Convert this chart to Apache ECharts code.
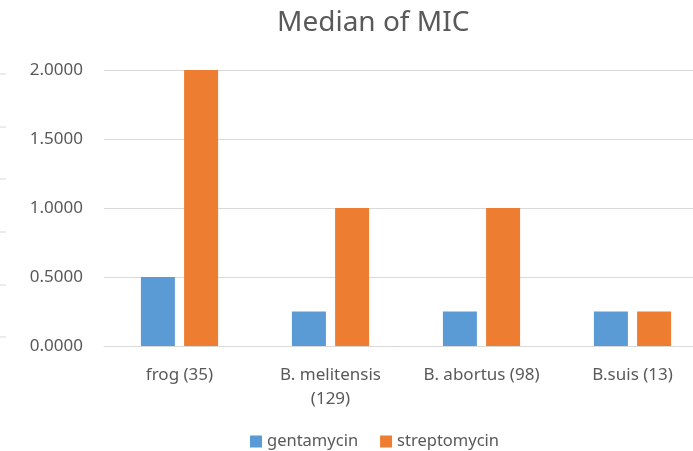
<!DOCTYPE html>
<html>
<head>
<meta charset="utf-8">
<script src="https://cdn.jsdelivr.net/npm/echarts@6/dist/echarts.min.js"></script>
<style>
  html, body { margin: 0; padding: 0; background: #fff; }
  #main { width: 693px; height: 451px; }
</style>
</head>
<body>
<div id="main"></div>
<script>
const categories = ['frog (35)', 'B. melitensis\n(129)', 'B. abortus (98)', 'B.suis (13)'];
const gentamycin = [0.5, 0.25, 0.25, 0.25];
const streptomycin = [2, 1, 1, 0.25];
const yTicks = [0, 0.5, 1, 1.5, 2];

const chart = echarts.init(document.getElementById('main'));
const font = 'Noto Sans';

// faint tick stubs on the left edge (leftover from the cropped neighbour chart)
const stubs = [74, 127, 179, 232, 285, 337].map(y => ({
  type: 'line',
  shape: { x1: 0, y1: y, x2: 6, y2: y },
  style: { stroke: '#d9d9d9', lineWidth: 1 }
}));

chart.setOption({
  backgroundColor: '#fff',
  animation: false,
  title: {
    text: 'Median of MIC',
    left: 272,
    top: 4,
    textStyle: { fontFamily: font, fontSize: 28, fontWeight: 'normal', color: '#595959' }
  },
  legend: {
    top: 428,
    left: 245,
    itemWidth: 12,
    itemHeight: 12,
    itemGap: 22,
    icon: 'rect',
    textStyle: { fontFamily: font, fontSize: 16.5, color: '#595959' },
    data: ['gentamycin', 'streptomycin']
  },
  // the plot area runs past the right edge of the cropped picture
  grid: { left: 104, width: 604, top: 70, bottom: 105, outerBoundsMode: 'none', containLabel: false },
  xAxis: {
    type: 'category',
    data: categories,
    axisLine: { lineStyle: { color: '#d9d9d9' } },
    axisTick: { show: false },
    axisLabel: { interval: 0, fontFamily: font, fontSize: 17, color: '#595959', margin: 17, lineHeight: 24 }
  },
  yAxis: {
    type: 'value',
    min: yTicks[0],
    max: yTicks[yTicks.length - 1],
    interval: 0.5,
    axisLine: { show: false },
    axisTick: { show: false },
    splitLine: { lineStyle: { color: '#d9d9d9' } },
    axisLabel: {
      fontFamily: font, fontSize: 17, color: '#595959', margin: 21,
      formatter: v => v.toFixed(4)
    }
  },
  graphic: stubs,
  series: [
    {
      name: 'gentamycin',
      type: 'bar',
      data: gentamycin,
      barWidth: 34,
      barGap: '27%',
      itemStyle: { color: '#5b9bd5' }
    },
    {
      name: 'streptomycin',
      type: 'bar',
      data: streptomycin,
      barWidth: 34,
      itemStyle: { color: '#ed7d31' }
    }
  ]
});
</script>
</body>
</html>
